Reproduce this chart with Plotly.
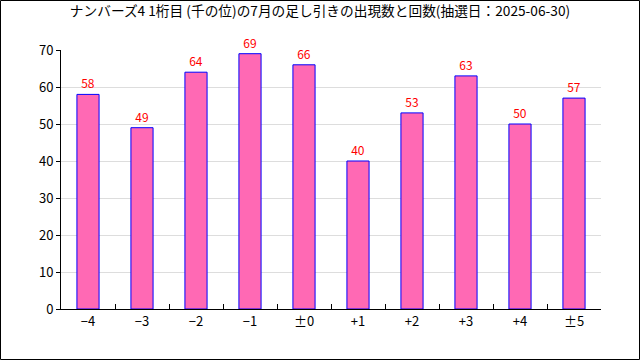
import plotly.graph_objects as go

categories = ["−4", "−3", "−2", "−1", "±0", "+1", "+2", "+3", "+4", "±5"]
counts = [58, 49, 64, 69, 66, 40, 53, 63, 50, 57]
title_text = "ナンバーズ4 1桁目 (千の位)の7月の足し引きの出現数と回数(抽選日：2025-06-30)"

W, H = 640, 360
L, R, T, B = 61, 39, 50, 51
pw, ph = W - L - R, H - T - B

fig = go.Figure()
fig.add_trace(go.Bar(
    x=categories, y=counts, width=0.41,
    marker=dict(color="#FF69B4", line=dict(color="#0000FF", width=1)),
    text=[str(v) for v in counts], textposition="outside",
    textfont=dict(color="#FF0000", size=12, family="Noto Sans CJK JP"),
    cliponaxis=False,
))

fig.update_layout(
    width=W, height=H,
    margin=dict(l=L, r=R, t=T, b=B),
    paper_bgcolor="white", plot_bgcolor="white",
    showlegend=False,
    title=dict(text=title_text, x=0.5, xanchor="center", y=1 - 11 / H, yanchor="middle",
               font=dict(size=13.7, color="#000000", family="Noto Sans CJK JP")),
    font=dict(family="Noto Sans CJK JP", color="#000000"),
    xaxis=dict(type="category", showline=True, linecolor="black", linewidth=1,
               ticks="inside", tickson="boundaries", ticklen=5, tickcolor="black",
               tickfont=dict(size=13, color="#000000"), showgrid=False, mirror=False),
    yaxis=dict(range=[0, 70], dtick=10, showline=True, linecolor="black", linewidth=1,
               ticks="outside", ticklen=4, tickcolor="black",
               tickfont=dict(size=13, color="#000000"),
               showgrid=True, gridcolor="#DDDDDD", gridwidth=1, zeroline=False),
)

fig.add_shape(type="rect", xref="paper", yref="paper",
              x0=(0.5 - L) / pw, x1=(W - 0.5 - L) / pw,
              y0=(H - B - (H - 0.5)) / ph, y1=(H - B - 0.5) / ph,
              line=dict(color="#000000", width=1), fillcolor="rgba(0,0,0,0)", layer="above")

fig.write_html("out.html", config={"displayModeBar": False},
               post_script="document.body.style.margin='0';document.body.style.overflow='hidden';")
